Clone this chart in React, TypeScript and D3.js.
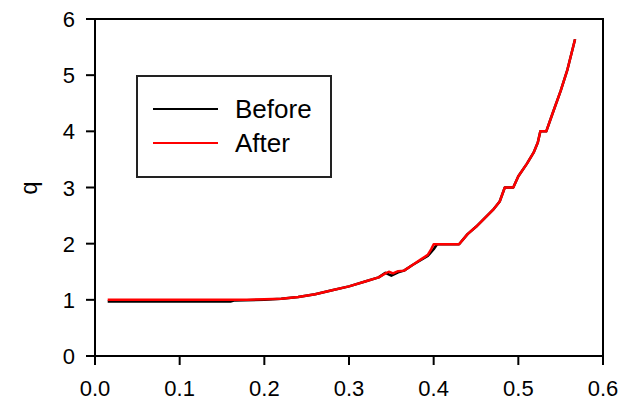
import React from "react";
import * as d3 from "d3";

// Series: q versus x, before and after the change
const xBefore = [0.015, 0.1, 0.16, 0.165, 0.2, 0.22, 0.24, 0.26, 0.28, 0.3, 0.32, 0.335, 0.343, 0.35, 0.358, 0.365, 0.375, 0.385, 0.393, 0.4, 0.404, 0.43, 0.44, 0.45, 0.46, 0.47, 0.478, 0.484, 0.494, 0.5, 0.51, 0.518, 0.523, 0.526, 0.533, 0.54, 0.55, 0.558, 0.567];
const qBefore = [0.97, 0.97, 0.97, 0.99, 1.0, 1.02, 1.05, 1.1, 1.17, 1.24, 1.33, 1.4, 1.48, 1.43, 1.49, 1.52, 1.62, 1.71, 1.78, 1.9, 1.99, 1.99, 2.17, 2.3, 2.45, 2.6, 2.75, 3.0, 3.0, 3.2, 3.42, 3.62, 3.8, 4.0, 4.0, 4.3, 4.72, 5.1, 5.64];

const xAfter = [0.015, 0.1, 0.18, 0.2, 0.22, 0.24, 0.26, 0.28, 0.3, 0.32, 0.335, 0.343, 0.347, 0.352, 0.358, 0.365, 0.375, 0.385, 0.393, 0.397, 0.4, 0.43, 0.44, 0.45, 0.46, 0.47, 0.478, 0.484, 0.494, 0.5, 0.51, 0.518, 0.523, 0.526, 0.533, 0.54, 0.55, 0.558, 0.567];
const qAfter = [1.0, 1.0, 1.0, 1.01, 1.02, 1.05, 1.1, 1.17, 1.24, 1.33, 1.4, 1.47, 1.5, 1.47, 1.51, 1.52, 1.62, 1.72, 1.8, 1.9, 1.99, 1.99, 2.17, 2.3, 2.45, 2.6, 2.75, 3.0, 3.0, 3.2, 3.42, 3.62, 3.8, 4.0, 4.0, 4.3, 4.72, 5.1, 5.64];

const xTicks = [0, 0.1, 0.2, 0.3, 0.4, 0.5, 0.6];
const yTicks = [0, 1, 2, 3, 4, 5, 6];

const seriesNames = ["Before", "After"];
const seriesColors = ["#000000", "#ff0000"];

const W = 625;
const H = 403;
const left = 95;
const right = 603;
const top = 19;
const bottom = 356;
const font = "Arial, 'Liberation Sans', sans-serif";

export default function App() {
  const x = d3.scaleLinear().domain([0, 0.6]).range([left, right]);
  const y = d3.scaleLinear().domain([0, 6]).range([bottom, top]);

  const line = d3
    .line<[number, number]>()
    .x((d) => x(d[0]))
    .y((d) => y(d[1]));

  const before = xBefore.map((v, i) => [v, qBefore[i]] as [number, number]);
  const after = xAfter.map((v, i) => [v, qAfter[i]] as [number, number]);

  return (
    <svg
      width={W}
      height={H}
      style={{ position: "absolute", left: 0, top: 0, background: "#fff" }}
    >
      <rect x={0} y={0} width={W} height={H} fill="#fff" />

      {/* data lines */}
      <path d={line(before) || ""} fill="none" stroke={seriesColors[0]} strokeWidth={2.5} strokeLinejoin="round" />
      <path d={line(after) || ""} fill="none" stroke={seriesColors[1]} strokeWidth={2.5} strokeLinejoin="round" />

      {/* frame */}
      <rect x={left} y={top} width={right - left} height={bottom - top} fill="none" stroke="#000" strokeWidth={2} />

      {/* x axis ticks */}
      {xTicks.map((t) => (
        <g key={"x" + t}>
          <line x1={x(t)} x2={x(t)} y1={bottom} y2={bottom + 9} stroke="#000" strokeWidth={2} />
          <text x={x(t)} y={396} textAnchor="middle" fontFamily={font} fontSize={22} fill="#000">
            {d3.format(".1f")(t)}
          </text>
        </g>
      ))}

      {/* y axis ticks */}
      {yTicks.map((t) => (
        <g key={"y" + t}>
          <line x1={left - 9} x2={left} y1={y(t)} y2={y(t)} stroke="#000" strokeWidth={2} />
          <text x={75} y={y(t) + 8} textAnchor="end" fontFamily={font} fontSize={22} fill="#000">
            {t}
          </text>
        </g>
      ))}

      {/* y axis title */}
      <text
        transform={`translate(37,188) rotate(-90)`}
        textAnchor="middle"
        fontFamily={font}
        fontSize={24}
        fill="#000"
      >
        q
      </text>

      {/* legend */}
      <rect x={137} y={76} width={194} height={101} fill="#fff" stroke="#222" strokeWidth={2} />
      {seriesNames.map((name, i) => (
        <g key={name}>
          <line x1={153} x2={218} y1={109 + i * 34} y2={109 + i * 34} stroke={seriesColors[i]} strokeWidth={2} />
          <text x={235} y={118 + i * 34} fontFamily={font} fontSize={26} fill="#000">
            {name}
          </text>
        </g>
      ))}
    </svg>
  );
}
